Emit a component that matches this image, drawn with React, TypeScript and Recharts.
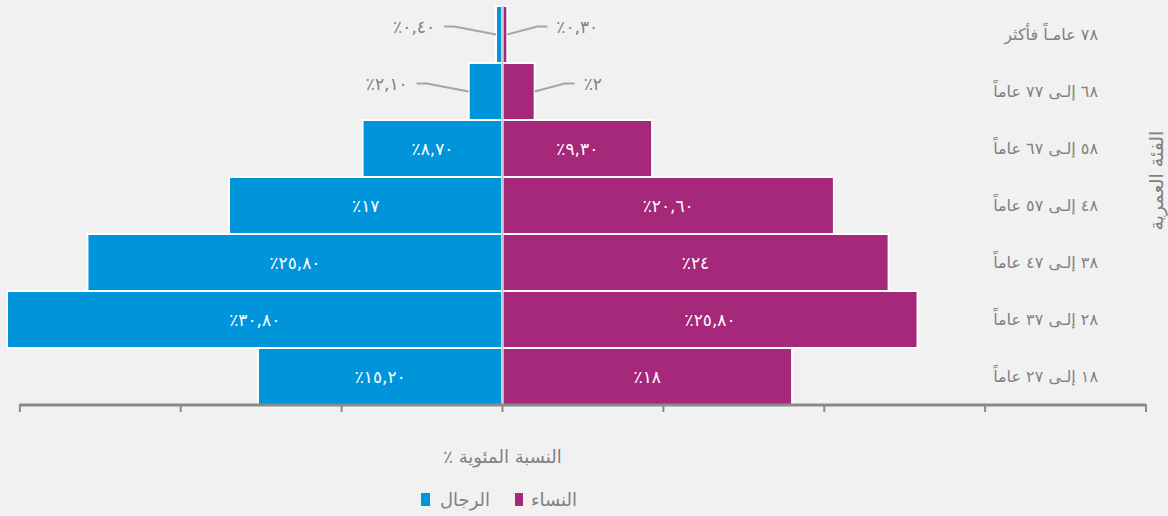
import { BarChart, Bar, XAxis, YAxis, ReferenceLine, LabelList, Label } from "recharts";

const ageGroups = [
  "٧٨ عامـاً فأكثر",
  "٦٨ إلـى ٧٧ عاماً",
  "٥٨ إلـى ٦٧ عاماً",
  "٤٨ إلـى ٥٧ عاماً",
  "٣٨ إلـى ٤٧ عاماً",
  "٢٨ إلـى ٣٧ عاماً",
  "١٨ إلـى ٢٧ عاماً",
];
const menShare = [0.4, 2.1, 8.7, 17, 25.8, 30.8, 15.2];
const womenShare = [0.3, 2, 9.3, 20.6, 24, 25.8, 18];
const xTicks = [-30, -20, -10, 0, 10, 20, 30, 40];

const BLUE = "#0095da";
const PURPLE = "#a6287a";
const GREY = "#8a8a8a";
const FONT = "DejaVu Sans";

const W = 1168;
const H = 516;
const MARGIN = { top: 6, right: 0, bottom: 101, left: 7 };
const Y_W = 22;
const X_MIN = -30.8;
const X_MAX = 40;
const plotW = W - MARGIN.left - MARGIN.right - Y_W;
const tickStep = (plotW * 10) / (X_MAX - X_MIN);

const data = ageGroups.map((age, i) => ({ age, men: -menShare[i], women: womenShare[i] }));

const arDigits = "٠١٢٣٤٥٦٧٨٩";
function fmt(v: number) {
  const s = Number.isInteger(v) ? String(v) : v.toFixed(2).replace(".", ",");
  return s.replace(/[0-9]/g, (d) => arDigits[Number(d)]) + "٪";
}

function makeLabel(side: "men" | "women") {
  return (props: any) => {
    const { x, y, width, height, index } = props;
    const v = side === "men" ? menShare[index] : womenShare[index];
    const left = Math.min(x, x + width);
    const right = Math.max(x, x + width);
    const cy = y + height / 2;
    if (v >= 5) {
      return (
        <text x={(left + right) / 2} y={cy} fill="#fff" fontSize={17} fontFamily={FONT}
          textAnchor="middle" dominantBaseline="central" direction="rtl">
          {fmt(v)}
        </text>
      );
    }
    // small bars: label outside with a leader line
    const s = side === "men" ? -1 : 1;
    const edge = side === "men" ? left : right;
    const ly = cy - 8;
    const p1 = edge + s * (side === "men" ? 42 : 30);
    const p2 = p1 + s * 10;
    return (
      <g>
        <polyline points={`${edge},${cy} ${p1},${ly} ${p2},${ly}`} fill="none" stroke="#a5a5a5" strokeWidth={2} />
        <text x={p2 + s * 9} y={ly} fill="#808080" fontSize={17} fontFamily={FONT}
          textAnchor={side === "men" ? "start" : "end"} dominantBaseline="central" direction="rtl">
          {fmt(v)}
        </text>
      </g>
    );
  };
}

const XTick = (props: any) => {
  const { x, y, index } = props;
  const last = index === xTicks.length - 1;
  return (
    <g>
      {!last && <line x1={x} y1={y} x2={x + tickStep} y2={y} stroke={GREY} strokeWidth={3} />}
      <line x1={x} y1={y - 1} x2={x} y2={y + 7} stroke={GREY} strokeWidth={2} />
    </g>
  );
};

const YTick = (props: any) => {
  const { x, y, payload } = props;
  return (
    <text x={x - 48} y={y} fill="#808080" fontSize={16} fontFamily={FONT} textAnchor="end" dominantBaseline="central">
      {payload.value}
    </text>
  );
};

const YTitle = (props: any) => {
  const { viewBox } = props;
  const cx = viewBox.x + viewBox.width / 2 - 1;
  const cy = viewBox.y + viewBox.height / 2 - 25;
  return (
    <text x={cx} y={cy} fill="#808080" fontSize={19} fontFamily={FONT} textAnchor="middle"
      dominantBaseline="central" transform={`rotate(-90 ${cx} ${cy})`}>
      الفئة العمرية
    </text>
  );
};

export default function App() {
  return (
    <div style={{ position: "relative", width: W, height: H, background: "#f1f1f1", fontFamily: FONT }}>
      <style>{`body{margin:0;background:#f1f1f1}`}</style>
      <BarChart width={W} height={H} data={data} layout="vertical" margin={MARGIN}
        stackOffset="sign" barCategoryGap={0}>
        <XAxis type="number" domain={[X_MIN, X_MAX]} ticks={xTicks} allowDataOverflow
          axisLine={false} tickLine={false} tickSize={0} tickMargin={0} height={10} tick={<XTick />} />
        <YAxis type="category" dataKey="age" orientation="right" width={Y_W}
          axisLine={false} tickLine={false} tickSize={0} tickMargin={0} tick={<YTick />}>
          <Label content={<YTitle />} />
        </YAxis>
        <Bar dataKey="men" stackId="a" fill={BLUE} stroke="#fff" strokeWidth={2} isAnimationActive={false}>
          <LabelList dataKey="men" content={makeLabel("men")} />
        </Bar>
        <Bar dataKey="women" stackId="a" fill={PURPLE} stroke="#fff" strokeWidth={2} isAnimationActive={false}>
          <LabelList dataKey="women" content={makeLabel("women")} />
        </Bar>
        <ReferenceLine x={0} stroke="#c8c8c8" strokeWidth={2}>
          <Label value="النسبة المئوية ٪" position="bottom" offset={45} fill="#808080" fontSize={18}
            fontFamily={FONT} direction="rtl" />
        </ReferenceLine>
      </BarChart>
      <div style={{ position: "absolute", top: 489, left: 421, display: "flex", alignItems: "center",
        direction: "ltr", fontSize: 18, color: "#808080" }}>
        <span style={{ width: 9, height: 13, background: BLUE, display: "inline-block", marginRight: 10 }} />
        <span>الرجال</span>
        <span style={{ width: 8, height: 13, background: PURPLE, display: "inline-block", marginLeft: 25, marginRight: 8 }} />
        <span>النساء</span>
      </div>
    </div>
  );
}
